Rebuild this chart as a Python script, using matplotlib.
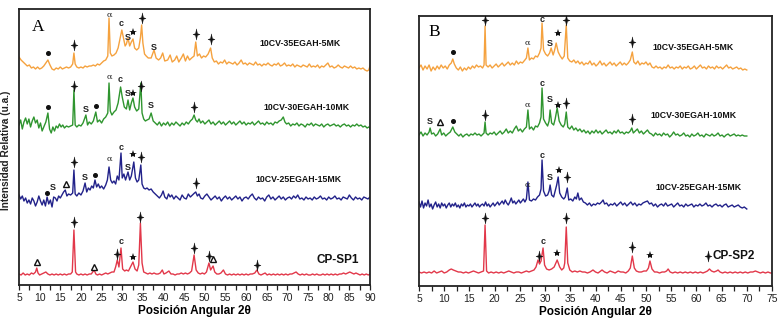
import matplotlib
matplotlib.use("Agg")
import matplotlib.pyplot as plt
from matplotlib.path import Path
import numpy as np

plt.rcParams['font.family'] = ['Liberation Sans', 'DejaVu Sans']

# ---------------- DATA (2theta, relative intensity a.u.) ----------------
a_orange = [(5.0, 11), (5.5, 8), (6.0, 6), (6.5, 4), (7.0, 2), (7.5, 3), (8.0, 0), (8.5, 1), (9.0, -1), (9.5, 1), (10.0, -1), (10.5, 0), (11.0, 2), (11.5, 5), (12.0, 8), (12.5, 3), (13.0, -1), (13.5, -2), (14.0, 0), (14.5, -1), (15.0, 1), (15.5, -1), (16.0, 0), (16.5, 1), (17.0, 0), (17.5, 1), (18.0, 4), (18.3, 15), (18.6, 4), (19.0, 1), (19.5, 0), (20.0, 1), (20.5, 0), (21.0, 2), (21.5, 1), (22.0, 2), (22.5, 2), (23.0, 3), (23.5, 2), (24.0, 4), (24.5, 3), (25.0, 5), (25.5, 7), (26.0, 8), (26.5, 12), (26.8, 50), (27.1, 15), (27.5, 12), (28.0, 13), (28.5, 15), (29.0, 20), (29.5, 30), (29.9, 38), (30.3, 30), (30.7, 22), (31.0, 24), (31.4, 30), (31.8, 22), (32.2, 26), (32.6, 29), (33.0, 20), (33.5, 18), (34.0, 20), (34.4, 30), (34.7, 43), (35.0, 25), (35.4, 14), (35.8, 12), (36.3, 10), (37.0, 10), (37.7, 18), (38.2, 10), (38.8, 8), (39.3, 10), (39.8, 15), (40.3, 7), (41.0, 8), (41.6, 13), (42.1, 6), (42.7, 8), (43.2, 12), (43.7, 6), (44.3, 10), (44.8, 14), (45.3, 7), (45.8, 12), (46.3, 8), (46.8, 10), (47.4, 12), (47.8, 26), (48.2, 12), (48.7, 14), (49.2, 10), (49.7, 12), (50.2, 11), (50.8, 14), (51.4, 20), (51.8, 10), (52.3, 6), (52.8, 7), (53.3, 4), (53.8, 6), (54.3, 5), (54.8, 8), (55.3, 4), (55.8, 6), (56.3, 5), (56.8, 4), (57.3, 6), (57.8, 3), (58.3, 5), (58.8, 8), (59.3, 4), (59.8, 5), (60.3, 3), (60.8, 5), (61.3, 4), (61.8, 3), (62.3, 6), (62.8, 3), (63.3, 4), (63.8, 2), (64.3, 4), (64.8, 3), (65.3, 5), (65.8, 3), (66.3, 2), (66.8, 4), (67.3, 3), (67.8, 5), (68.3, 2), (68.8, 3), (69.3, 5), (69.8, 2), (70.3, 3), (70.8, 2), (71.3, 4), (71.8, 1), (72.3, 3), (72.8, 2), (73.3, 1), (73.8, 3), (74.3, 2), (74.8, 1), (75.3, 4), (75.8, 1), (76.3, 2), (76.8, 1), (77.3, 3), (77.8, 0), (78.3, 2), (78.8, 1), (79.3, 3), (79.8, 5), (80.3, 1), (80.8, 2), (81.3, 0), (81.8, 1), (82.3, 3), (82.8, 1), (83.3, 0), (83.8, 2), (84.3, 1), (84.8, 0), (85.3, 2), (85.8, 0), (86.3, 1), (86.8, -1), (87.3, 0), (87.8, -1), (88.3, 0), (88.8, -2), (89.3, -3), (89.7, -2), (90.0, 2)]

a_green = [(5.0, 0), (5.4, 5), (5.8, -4), (6.2, 3), (6.6, 7), (7.0, 1), (7.4, 6), (7.8, -2), (8.2, 4), (8.6, 8), (9.0, 2), (9.4, 5), (9.8, -3), (10.2, 2), (10.6, -6), (11.0, -2), (11.5, 3), (12.0, 12), (12.4, -4), (12.8, -8), (13.2, -2), (13.6, -6), (14.0, -1), (14.4, -3), (14.8, 1), (15.2, -2), (15.6, 0), (16.0, -3), (16.5, -1), (17.0, -2), (17.5, -1), (18.0, 0), (18.3, 35), (18.6, 0), (19.0, -2), (19.5, 0), (20.0, -1), (20.5, 2), (21.2, 10), (21.6, 0), (22.0, 3), (22.5, 1), (23.0, 4), (23.6, 13), (24.0, 3), (24.5, 5), (25.0, 2), (25.5, 6), (26.0, 8), (26.5, 12), (26.8, 42), (27.1, 14), (27.5, 10), (28.0, 13), (28.5, 15), (29.0, 22), (29.6, 38), (30.0, 28), (30.5, 18), (31.0, 16), (31.4, 25), (31.8, 15), (32.2, 22), (32.6, 27), (33.0, 18), (33.5, 14), (34.0, 16), (34.5, 42), (34.8, 12), (35.2, 6), (35.6, 4), (36.0, 5), (36.5, 6), (37.0, 12), (37.5, 4), (38.0, 2), (38.5, 0), (39.0, 3), (39.5, -1), (40.0, 2), (40.5, 0), (41.0, 3), (41.5, -1), (42.0, 2), (42.5, 0), (43.0, 3), (43.5, 1), (44.0, -1), (44.5, 2), (45.0, 0), (45.5, 3), (46.0, 1), (46.5, 4), (47.0, 6), (47.4, 10), (47.8, 5), (48.2, 3), (48.6, 6), (49.0, 2), (49.5, 4), (50.0, 1), (50.5, 3), (51.0, 5), (51.5, 1), (52.0, 3), (52.5, 0), (53.0, 2), (53.5, 4), (54.0, 1), (54.5, 3), (55.0, 0), (55.5, 2), (56.0, 4), (56.5, 1), (57.0, 3), (57.5, 0), (58.0, 2), (58.5, 4), (59.0, 1), (59.5, 3), (60.0, 0), (60.5, 2), (61.0, 1), (61.5, 3), (62.0, 0), (62.5, 2), (63.0, 4), (63.5, 1), (64.0, 2), (64.5, 0), (65.0, 3), (65.5, 1), (66.0, 2), (66.5, 0), (67.0, 3), (67.5, 2), (68.0, 4), (68.5, 5), (69.0, 8), (69.4, 3), (69.8, 1), (70.3, 2), (70.8, -1), (71.3, 1), (71.8, 0), (72.3, 2), (72.8, -1), (73.3, 1), (73.8, 0), (74.3, -2), (74.8, 1), (75.3, 0), (75.8, 2), (76.3, -1), (76.8, 1), (77.3, 0), (77.8, -1), (78.3, 1), (78.8, -2), (79.3, 0), (79.8, 1), (80.3, -1), (80.8, 0), (81.3, 1), (81.8, -1), (82.3, 0), (82.8, -2), (83.3, 0), (83.8, 1), (84.3, -1), (84.8, 0), (85.3, -2), (85.8, 0), (86.3, -1), (86.8, 1), (87.3, -1), (87.8, 0), (88.3, -2), (88.8, -1), (89.3, -3), (89.7, -2), (90.0, -3)]

a_blue = [(5.0, 3), (5.4, -1), (5.8, 2), (6.2, -3), (6.6, 0), (7.0, -5), (7.4, -2), (7.8, -6), (8.2, 0), (8.6, -3), (9.0, -8), (9.4, -4), (9.8, 2), (10.2, -3), (10.6, -7), (11.0, -2), (11.4, -8), (11.8, 1), (12.2, -6), (12.6, -2), (13.0, -9), (13.4, 1), (13.8, 0), (14.2, -3), (14.6, 2), (15.0, 0), (15.4, 3), (15.8, 6), (16.2, 8), (16.6, 2), (17.0, 4), (17.5, 3), (18.0, 5), (18.3, 28), (18.6, 4), (19.0, 2), (19.5, 5), (20.0, 3), (20.5, 7), (21.0, 15), (21.4, 6), (21.8, 10), (22.2, 8), (22.6, 12), (23.0, 10), (23.4, 18), (23.8, 11), (24.2, 14), (24.6, 10), (25.0, 12), (25.5, 9), (26.0, 13), (26.4, 18), (26.8, 31), (27.2, 18), (27.6, 15), (28.0, 17), (28.4, 14), (28.8, 22), (29.2, 18), (29.7, 45), (30.0, 20), (30.4, 24), (30.8, 18), (31.4, 26), (31.8, 18), (32.2, 22), (32.8, 36), (33.2, 20), (33.6, 16), (34.0, 18), (34.5, 33), (34.8, 14), (35.2, 10), (35.6, 9), (36.0, 10), (36.5, 8), (37.0, 9), (37.5, 6), (38.0, 4), (38.5, 2), (39.0, 0), (39.5, 3), (39.9, 7), (40.3, 1), (40.8, -1), (41.2, 4), (41.6, 1), (42.0, 3), (42.5, -1), (43.0, 2), (43.5, 0), (44.0, -2), (44.5, 3), (45.0, 0), (45.5, -1), (46.0, 4), (46.5, 1), (47.0, 3), (47.5, 5), (47.8, 6), (48.2, 2), (48.6, 4), (49.0, 0), (49.5, -1), (50.0, 2), (50.5, 4), (51.0, 1), (51.5, -2), (52.0, 0), (52.5, 2), (53.0, -1), (53.5, 1), (54.0, -3), (54.5, 0), (55.0, 2), (55.5, -1), (56.0, 1), (56.5, -2), (57.0, 0), (57.5, 2), (58.0, -1), (58.5, 1), (59.0, -3), (59.5, 0), (60.0, 1), (60.5, -1), (61.0, 2), (61.5, 4), (62.0, 0), (62.5, -2), (63.0, 1), (63.5, -1), (64.0, 0), (64.5, -3), (65.0, 1), (65.5, 3), (66.0, -1), (66.5, 1), (67.0, -2), (67.5, 0), (68.0, 2), (68.5, -1), (69.0, 1), (69.5, -2), (70.0, 0), (70.5, 1), (71.0, -1), (71.5, 2), (72.0, 0), (72.5, 3), (73.0, -1), (73.5, 0), (74.0, -2), (74.5, 1), (75.0, -1), (75.5, 0), (76.0, -2), (76.5, 1), (77.0, -1), (77.5, 0), (78.0, 2), (78.5, -1), (79.0, 0), (79.5, -2), (80.0, 1), (80.5, -1), (81.0, 0), (81.5, 2), (82.0, -1), (82.5, 0), (83.0, -2), (83.5, 1), (84.0, 0), (84.5, -1), (85.0, 3), (85.5, 0), (86.0, -2), (86.5, 1), (87.0, -1), (87.5, 0), (88.0, -2), (88.5, 1), (89.0, 0), (89.5, -1), (90.0, 1)]

a_red = [(5.0, 1), (5.5, 0), (6.0, 2), (6.5, 0), (7.0, 1), (7.5, 0), (8.0, 2), (8.5, 1), (9.0, 3), (9.3, 7), (9.6, 2), (10.0, 0), (10.5, 1), (11.0, 2), (11.5, 3), (12.0, 1), (12.5, 0), (13.0, 1), (13.5, 0), (14.0, 1), (14.5, 0), (15.0, 1), (15.5, 0), (16.0, 1), (16.5, 0), (17.0, 1), (17.5, 1), (17.9, 3), (18.3, 45), (18.7, 3), (19.0, 1), (19.5, 0), (20.0, 1), (20.5, 0), (21.0, 1), (21.5, 0), (22.0, 1), (22.5, 1), (23.2, 5), (23.6, 1), (24.0, 0), (24.5, 1), (25.0, 0), (25.5, 1), (26.0, 2), (26.5, 1), (27.0, 2), (27.5, 3), (28.0, 3), (28.4, 8), (28.8, 15), (29.2, 8), (29.7, 27), (30.1, 6), (30.6, 4), (31.0, 5), (31.5, 4), (32.0, 8), (32.6, 13), (33.1, 6), (33.6, 4), (34.0, 10), (34.4, 52), (34.8, 12), (35.2, 3), (35.7, 2), (36.2, 1), (36.7, 2), (37.2, 1), (37.7, 2), (38.2, 1), (38.7, 1), (39.2, 2), (39.7, 5), (40.1, 1), (40.6, 2), (41.3, 4), (41.8, 1), (42.3, 1), (42.8, 0), (43.3, 1), (43.8, 1), (44.3, 2), (44.8, 1), (45.3, 2), (45.8, 1), (46.3, 2), (46.8, 4), (47.4, 20), (47.9, 5), (48.4, 2), (48.9, 1), (49.4, 2), (49.9, 1), (50.4, 3), (51.0, 12), (51.4, 5), (52.0, 9), (52.4, 3), (52.9, 1), (53.4, 1), (53.9, 2), (54.5, 5), (55.0, 1), (55.5, 0), (56.0, 1), (56.5, 0), (57.0, 1), (57.5, 0), (58.0, 1), (58.5, 0), (59.0, 1), (59.5, 0), (60.0, 1), (60.5, 0), (61.0, 1), (61.5, 1), (62.1, 2), (62.6, 5), (63.1, 1), (63.6, 0), (64.1, 1), (64.6, 2), (65.1, 0), (65.6, 1), (66.1, 0), (66.6, 1), (67.1, 0), (67.6, 1), (68.1, 0), (68.6, 1), (69.1, 0), (69.6, 1), (70.1, 0), (70.6, 1), (71.1, 1), (71.6, 2), (72.1, 3), (72.6, 1), (73.1, 0), (73.6, 1), (74.1, 0), (74.6, 1), (75.1, 0), (75.6, 0), (76.1, 1), (76.6, 0), (77.1, 1), (77.6, 0), (78.1, 0), (78.6, 1), (79.1, 0), (79.6, 1), (80.1, 0), (80.6, 1), (81.1, 0), (81.6, 1), (82.1, 0), (82.6, 1), (83.1, 1), (83.6, 2), (84.1, 1), (84.6, 2), (85.1, 3), (85.6, 2), (86.1, 1), (86.6, 2), (87.1, 1), (87.6, 0), (88.1, 1), (88.6, 0), (89.1, 1), (89.6, 0), (90.0, 1)]

b_orange = [(5.0, 0), (5.4, 3), (5.8, -2), (6.2, 2), (6.6, -1), (7.0, 3), (7.4, -3), (7.8, 1), (8.2, -2), (8.6, 2), (9.0, -1), (9.4, 3), (9.8, 0), (10.2, 2), (10.6, -1), (11.0, 3), (11.4, 5), (11.7, 9), (12.0, 4), (12.4, 0), (12.8, -2), (13.2, 1), (13.6, -3), (14.0, 0), (14.4, -2), (14.8, 1), (15.2, -1), (15.6, 2), (16.0, 0), (16.4, 3), (16.8, 1), (17.2, 2), (17.6, 0), (17.9, 3), (18.1, 42), (18.3, 3), (18.7, 1), (19.1, 3), (19.5, 0), (19.9, 2), (20.3, 4), (20.7, 1), (21.1, 3), (21.5, 5), (21.9, 2), (22.3, 4), (22.7, 6), (23.1, 3), (23.5, 5), (23.9, 3), (24.3, 7), (24.7, 4), (25.1, 6), (25.5, 5), (26.0, 8), (26.3, 10), (26.6, 20), (26.9, 8), (27.3, 10), (27.7, 9), (28.1, 12), (28.5, 11), (28.9, 15), (29.2, 20), (29.4, 45), (29.7, 18), (30.1, 14), (30.5, 12), (30.9, 15), (31.2, 20), (31.6, 13), (31.9, 18), (32.2, 25), (32.6, 16), (33.0, 12), (33.4, 9), (33.8, 12), (34.2, 43), (34.5, 10), (34.9, 7), (35.3, 6), (35.7, 8), (36.1, 5), (36.5, 7), (36.9, 4), (37.3, 6), (37.7, 3), (38.1, 5), (38.5, 4), (38.9, 7), (39.3, 3), (39.7, 5), (40.1, 2), (40.5, 4), (40.9, 7), (41.3, 3), (41.7, 5), (42.1, 2), (42.5, 4), (42.9, 6), (43.3, 3), (43.7, 5), (44.1, 2), (44.5, 4), (44.9, 6), (45.3, 3), (45.7, 5), (46.1, 3), (46.5, 5), (46.9, 8), (47.3, 16), (47.6, 6), (48.0, 4), (48.4, 7), (48.8, 3), (49.2, 5), (49.6, 4), (50.0, 6), (50.4, 3), (50.8, 5), (51.2, 1), (51.6, 0), (52.0, 2), (52.4, 0), (52.8, 1), (53.2, -1), (53.6, 1), (54.0, 0), (54.4, 3), (54.8, 0), (55.2, 1), (55.6, -1), (56.0, 1), (56.4, 0), (56.8, 2), (57.2, -1), (57.6, 1), (58.0, 0), (58.4, 2), (58.8, -1), (59.2, 0), (59.6, 2), (60.0, -1), (60.4, 1), (60.8, 3), (61.2, 0), (61.6, 1), (62.0, -1), (62.4, 2), (62.8, 0), (63.2, 1), (63.6, -1), (64.0, 2), (64.4, 0), (64.8, 1), (65.2, -1), (65.6, 1), (66.0, 3), (66.4, 0), (66.8, 1), (67.2, -1), (67.6, 0), (68.0, 1), (68.4, -1), (68.8, 0), (69.2, -2), (69.6, -1), (70.0, -2)]

b_green = [(5.0, 0), (5.4, 3), (5.8, -1), (6.2, 2), (6.6, 0), (7.0, 3), (7.2, 7), (7.5, 1), (7.9, 2), (8.3, -1), (8.7, 1), (9.2, 6), (9.5, 0), (9.9, 2), (10.3, -1), (10.7, 1), (11.2, 3), (11.7, 8), (12.1, 3), (12.5, 1), (12.9, -1), (13.3, 1), (13.7, -2), (14.1, 0), (14.5, 1), (14.9, -1), (15.3, 1), (15.7, 0), (16.1, 2), (16.5, 0), (16.9, 1), (17.3, -1), (17.7, 1), (17.9, 2), (18.1, 13), (18.3, 2), (18.7, 0), (19.1, 2), (19.5, 1), (19.9, 3), (20.3, 0), (20.7, 2), (21.1, 4), (21.5, 1), (21.9, 3), (22.3, 6), (22.7, 2), (23.1, 4), (23.5, 2), (23.9, 6), (24.3, 9), (24.7, 4), (25.1, 6), (25.5, 3), (25.9, 6), (26.3, 8), (26.6, 25), (26.9, 6), (27.3, 8), (27.7, 5), (28.1, 9), (28.5, 8), (28.9, 12), (29.2, 18), (29.4, 47), (29.7, 16), (30.1, 12), (30.5, 9), (30.8, 14), (31.0, 25), (31.3, 12), (31.7, 10), (32.0, 16), (32.4, 27), (32.8, 14), (33.2, 10), (33.6, 8), (33.9, 11), (34.2, 23), (34.5, 8), (34.9, 6), (35.3, 9), (35.7, 5), (36.1, 7), (36.5, 4), (36.9, 6), (37.3, 3), (37.7, 5), (38.1, 2), (38.5, 4), (38.9, 1), (39.3, 4), (39.7, 2), (40.1, 5), (40.5, 2), (40.9, 4), (41.3, 1), (41.7, 3), (42.1, 5), (42.5, 2), (42.9, 3), (43.3, 1), (43.7, 4), (44.1, 2), (44.5, 5), (44.9, 2), (45.3, 3), (45.7, 1), (46.1, 3), (46.5, 2), (46.9, 4), (47.2, 7), (47.5, 2), (47.9, 4), (48.3, 6), (48.7, 2), (49.1, 4), (49.5, 1), (49.9, 3), (50.3, 5), (50.7, 2), (51.1, 1), (51.5, -1), (51.9, 2), (52.3, 0), (52.7, 1), (53.1, -1), (53.5, 2), (53.9, 0), (54.3, 1), (54.7, -2), (55.1, 0), (55.5, 3), (55.9, 0), (56.3, 1), (56.7, -1), (57.1, 0), (57.5, 2), (57.9, -1), (58.3, 0), (58.7, -2), (59.1, 1), (59.5, -1), (59.9, 0), (60.3, 2), (60.7, -1), (61.1, 0), (61.5, -2), (61.9, 1), (62.3, 0), (62.7, -1), (63.1, 1), (63.5, -1), (63.9, 0), (64.3, 2), (64.7, -1), (65.1, 0), (65.5, -2), (65.9, 0), (66.3, 1), (66.7, -1), (67.1, 0), (67.5, 1), (67.9, -1), (68.3, 0), (68.7, -1), (69.1, 0), (69.5, -1), (70.0, -1)]

b_blue = [(5.0, 3), (5.3, -2), (5.6, 4), (5.9, -3), (6.2, 2), (6.5, -1), (6.8, 5), (7.1, -2), (7.4, 1), (7.7, -4), (8.0, 0), (8.3, 3), (8.6, -2), (8.9, 1), (9.2, -3), (9.5, 2), (9.8, -1), (10.1, 1), (10.4, -3), (10.7, 0), (11.0, 2), (11.3, -2), (11.6, 1), (11.9, -1), (12.2, 2), (12.5, -2), (12.8, 0), (13.1, -3), (13.4, 1), (13.7, -1), (14.0, 2), (14.3, -2), (14.6, 0), (14.9, -1), (15.2, 1), (15.5, -2), (15.8, 0), (16.1, 2), (16.4, -1), (16.7, 1), (17.0, -2), (17.3, 0), (17.6, 1), (17.9, -1), (18.2, 3), (18.5, -1), (18.8, 1), (19.1, -2), (19.4, 0), (19.7, 2), (20.0, -1), (20.3, 1), (20.6, 3), (20.9, 0), (21.2, 2), (21.5, 4), (21.8, 1), (22.1, 5), (22.4, 2), (22.7, 0), (23.0, 3), (23.3, 7), (23.6, 2), (23.9, 4), (24.2, 1), (24.5, 3), (24.8, 5), (25.1, 2), (25.4, 4), (25.7, 6), (26.0, 3), (26.3, 6), (26.6, 23), (26.9, 5), (27.3, 4), (27.7, 6), (28.1, 5), (28.5, 8), (28.9, 10), (29.2, 16), (29.4, 45), (29.7, 14), (30.1, 9), (30.5, 10), (30.8, 14), (31.0, 20), (31.3, 10), (31.7, 8), (32.0, 14), (32.3, 20), (32.6, 28), (32.9, 12), (33.3, 8), (33.7, 6), (34.0, 8), (34.4, 17), (34.7, 5), (35.1, 6), (35.5, 4), (35.9, 8), (36.2, 6), (36.5, 12), (36.8, 5), (37.2, 7), (37.6, 3), (38.0, 2), (38.4, 0), (38.8, 2), (39.2, -1), (39.6, 1), (40.0, 0), (40.4, 2), (40.8, 1), (41.2, 3), (41.5, 5), (41.8, 1), (42.2, 2), (42.6, -1), (43.0, 1), (43.4, 0), (43.8, 2), (44.2, -1), (44.6, 1), (45.0, 3), (45.4, 0), (45.8, 2), (46.2, -1), (46.6, 1), (47.0, 3), (47.4, 0), (47.8, 2), (48.2, -1), (48.6, 1), (49.0, 0), (49.4, 2), (49.8, 3), (50.3, 4), (50.7, 1), (51.1, 2), (51.5, -1), (51.9, 1), (52.3, -2), (52.7, 0), (53.1, 1), (53.5, -1), (53.9, 2), (54.3, -1), (54.7, 0), (55.1, 1), (55.5, -2), (55.9, 0), (56.3, 2), (56.7, -1), (57.1, 0), (57.5, -2), (57.9, 1), (58.3, -1), (58.7, 0), (59.1, 1), (59.5, -2), (59.9, 0), (60.3, -1), (60.7, 1), (61.1, -1), (61.5, 0), (61.9, 2), (62.3, -1), (62.7, 0), (63.1, -2), (63.5, 0), (63.9, 1), (64.3, -1), (64.7, 0), (65.1, -2), (65.5, 0), (65.9, 1), (66.3, -2), (66.7, -1), (67.1, 0), (67.5, -2), (67.9, -1), (68.3, 0), (68.7, -2), (69.1, -3), (69.5, -2), (70.0, -4)]

b_red = [(5.0, 1), (5.5, 0), (6.0, 1), (6.5, 0), (7.0, 1), (7.5, 0), (8.0, 2), (8.5, 0), (9.0, 1), (9.5, 2), (10.0, 0), (10.5, 1), (11.0, 3), (11.4, 4), (11.8, 3), (12.3, 2), (12.8, 1), (13.3, 1), (13.8, 0), (14.3, 1), (14.8, 0), (15.3, 1), (15.8, 2), (16.3, 1), (16.8, 0), (17.3, 1), (17.8, 2), (18.1, 48), (18.4, 2), (18.8, 0), (19.3, 1), (19.8, 0), (20.3, 1), (20.8, 0), (21.3, 1), (21.8, 0), (22.3, 1), (22.8, 2), (23.3, 1), (23.8, 0), (24.3, 1), (24.8, 1), (25.3, 0), (25.8, 1), (26.3, 2), (26.8, 1), (27.3, 2), (27.8, 3), (28.2, 6), (28.6, 13), (28.9, 9), (29.2, 12), (29.6, 25), (29.9, 8), (30.3, 4), (30.8, 3), (31.3, 4), (31.8, 6), (32.4, 13), (32.9, 6), (33.3, 3), (33.7, 5), (33.9, 10), (34.2, 46), (34.5, 10), (34.9, 3), (35.4, 1), (35.9, 2), (36.4, 1), (36.9, 2), (37.4, 1), (37.9, 1), (38.4, 0), (38.9, 1), (39.5, 3), (40.0, 1), (40.5, 0), (41.3, 3), (41.8, 1), (42.3, 0), (42.9, 2), (43.4, 1), (43.9, 0), (44.5, 2), (45.0, 1), (45.5, 1), (46.0, 0), (46.5, 2), (46.9, 5), (47.3, 17), (47.7, 5), (48.1, 2), (48.6, 1), (49.1, 1), (49.6, 2), (50.1, 2), (50.5, 5), (50.8, 12), (51.2, 4), (51.7, 1), (52.2, 1), (52.7, 0), (53.2, 1), (53.7, 1), (54.1, 2), (54.4, 4), (54.8, 1), (55.3, 0), (55.8, 1), (56.3, 0), (56.8, 1), (57.3, 0), (57.8, 1), (58.3, 0), (58.8, 1), (59.3, 0), (59.8, 1), (60.3, 0), (60.8, 1), (61.3, 0), (61.8, 1), (62.2, 2), (62.6, 4), (63.0, 2), (63.5, 1), (64.0, 2), (64.3, 3), (64.7, 1), (65.2, 0), (65.7, 1), (66.2, 0), (66.7, 1), (67.2, 0), (67.7, 1), (68.2, 0), (68.7, 1), (69.2, 0), (69.7, 1), (70.2, 0), (70.7, 1), (71.2, 1), (71.7, 2), (72.2, 1), (72.7, 0), (73.2, 1), (73.7, 0), (74.2, 1), (74.7, 0), (75.0, 0)]

# vertical stacking offsets of each pattern
a_offsets = [217, 160, 87, 10]
b_offsets = [218, 151, 81, 13]
a_names = ["10CV-35EGAH-5MK", "10CV-30EGAH-10MK", "10CV-25EGAH-15MK", "CP-SP1"]
b_names = ["10CV-35EGAH-5MK", "10CV-30EGAH-10MK", "10CV-25EGAH-15MK", "CP-SP2"]
a_name_pos = [(73.0, 242), (74.7, 177), (72.6, 105), (82.2, 25)]
b_name_pos = [(59.4, 239), (59.4, 170), (60.4, 99), (63.3, 30)]
colors = ["#F5A23F", "#2F952F", "#22228A", "#E2384A"]

# phase markers: (2theta, height, symbol)
a_marks = [
    (12.0, 232, 'dot'), (18.4, 240, 'cross'), (26.8, 270, 'a'), (29.8, 261, 'c'), (31.3, 248, 'S'),
    (32.6, 253, 'star'), (34.7, 267, 'cross'), (37.7, 238, 'S'), (47.8, 251, 'cross'), (51.4, 246, 'cross'),
    (12.0, 178, 'dot'), (18.3, 199, 'cross'), (21.2, 176, 'S'), (23.6, 179, 'dot'), (26.8, 208, 'a'),
    (29.6, 205, 'c'), (31.4, 191, 'S'), (32.6, 192, 'star'), (34.5, 199, 'cross'), (37.0, 179, 'S'),
    (47.4, 178, 'cross'),
    (11.7, 92, 'dot'), (13.3, 98, 'S'), (16.3, 101, 'tri'), (18.3, 123, 'cross'), (21.0, 108, 'S'),
    (23.5, 110, 'dot'), (26.8, 126, 'a'), (29.7, 137, 'c'), (31.3, 118, 'S'), (32.7, 131, 'star'),
    (34.6, 128, 'cross'), (47.8, 102, 'cross'),
    (9.3, 23, 'tri'), (18.3, 63, 'cross'), (23.2, 18, 'tri'), (28.7, 31, 'cross'), (29.7, 43, 'c'),
    (32.5, 28, 'star'), (34.4, 68, 'cross'), (47.3, 37, 'cross'), (51.0, 29, 'cross'), (52.1, 26, 'tri'),
    (62.6, 20, 'cross'),
]
b_marks = [
    (11.7, 234, 'dot'), (18.1, 266, 'cross'), (26.6, 243, 'a'), (29.4, 267, 'c'), (31.0, 243, 'S'),
    (32.6, 253, 'star'), (34.2, 266, 'cross'), (47.3, 244, 'cross'),
    (7.2, 164, 'S'), (9.2, 164, 'tri'), (11.7, 165, 'dot'), (18.1, 171, 'cross'), (26.6, 181, 'a'),
    (29.4, 203, 'c'), (31.0, 186, 'S'), (32.5, 181, 'star'), (34.2, 183, 'cross'), (47.2, 167, 'cross'),
    (26.6, 101, 'a'), (29.4, 131, 'c'), (31.0, 109, 'S'), (32.7, 116, 'star'), (34.4, 109, 'cross'),
    (18.1, 68, 'cross'), (28.7, 30, 'cross'), (29.6, 44, 'c'), (32.4, 33, 'star'), (34.2, 68, 'cross'),
    (47.3, 39, 'cross'), (50.8, 31, 'star'),
    (62.3, 30, 'cross'),
]

a_xticks = list(range(5, 95, 5))
b_xticks = list(range(5, 80, 5))

# ---------------- FIGURE ----------------
fig = plt.figure(figsize=(7.83, 3.27), dpi=100)
W, H = 783, 327

def px_axes(l, t, r, b):
    return fig.add_axes([l / W, 1 - b / H, (r - l) / W, (b - t) / H])

axA = px_axes(19, 9, 370, 285)
axB = px_axes(419, 16, 772, 286)

cross_path = Path([(0, 1), (0.16, 0.16), (0.62, 0), (0.16, -0.16), (0, -1),
                   (-0.16, -0.16), (-0.62, 0), (-0.16, 0.16), (0, 1)],
                  [Path.MOVETO] + [Path.LINETO] * 7 + [Path.CLOSEPOLY])

def draw_marks(ax, marks):
    for x, y, k in marks:
        if k == 'cross':
            ax.plot(x, y, marker=cross_path, ms=8, color='#111111', mec='#111111', mew=0.3, zorder=5)
        elif k == 'dot':
            ax.plot(x, y, marker='o', ms=2.6, color='#111111', zorder=5)
        elif k == 'star':
            ax.plot(x, y, marker='*', ms=6, color='#111111', mew=0, zorder=5)
        elif k == 'tri':
            ax.plot(x, y, marker='^', ms=4, mfc='white', mec='#111111', mew=1.0, zorder=5)
        elif k == 'a':
            ax.text(x, y, 'α', fontsize=6, ha='center', va='center', color='#222222',
                    family=['DejaVu Serif'])
        elif k == 'c':
            ax.text(x, y, 'c', fontsize=6.5, ha='center', va='center', color='#222222', fontweight='bold')
        elif k == 'S':
            ax.text(x, y, 'S', fontsize=6.5, ha='center', va='center', color='#222222', fontweight='bold')

def setup(ax, xmax, ymax, ticks):
    ax.set_xlim(5, xmax)
    ax.set_ylim(0, ymax)
    ax.set_xticks(ticks)
    ax.set_xticks(np.arange(7.5, xmax, 5), minor=True)
    ax.set_yticks([])
    ax.tick_params(axis='x', which='both', direction='out', length=3.5, width=0.9,
                   labelsize=7.5, colors='#222222', pad=2)
    for s in ax.spines.values():
        s.set_linewidth(1.3)
        s.set_color('#222222')
    ax.set_xlabel('Posición Angular 2θ', fontsize=8.5, fontweight='bold', labelpad=2)

traces_a = [a_orange, a_green, a_blue, a_red]
traces_b = [b_orange, b_green, b_blue, b_red]

for ax, traces, offs, names, npos in [(axA, traces_a, a_offsets, a_names, a_name_pos),
                                      (axB, traces_b, b_offsets, b_names, b_name_pos)]:
    for i, tr in enumerate(traces):
        xs = [p[0] for p in tr]
        ys = [p[1] + offs[i] for p in tr]
        ax.plot(xs, ys, color=colors[i], lw=1.0)
    for i, (nm, (x, y)) in enumerate(zip(names, npos)):
        if i < 3:
            ax.text(x, y, nm, fontsize=6.3, fontweight='bold', ha='center', va='center', color='#111111')
        else:
            ha = 'center' if ax is axA else 'left'
            ax.text(x, y, nm, fontsize=8.5, fontweight='bold', ha=ha, va='center', color='#111111')

setup(axA, 90, 276, a_xticks)
setup(axB, 75, 270, b_xticks)
draw_marks(axA, a_marks)
draw_marks(axB, b_marks)

axA.text(0.054, 0.935, 'A', transform=axA.transAxes, fontsize=12.5, ha='center', va='center',
         family=['Liberation Serif'])
axB.text(0.042, 0.94, 'B', transform=axB.transAxes, fontsize=12.5, ha='center', va='center',
         family=['Liberation Serif'])

fig.text(6 / W, 1 - 150 / H, 'Intensidad Relativa (u.a.)', rotation=90, fontsize=7.3,
         fontweight='bold', ha='center', va='center', color='#222222')

fig.savefig('out.png', dpi=100)
